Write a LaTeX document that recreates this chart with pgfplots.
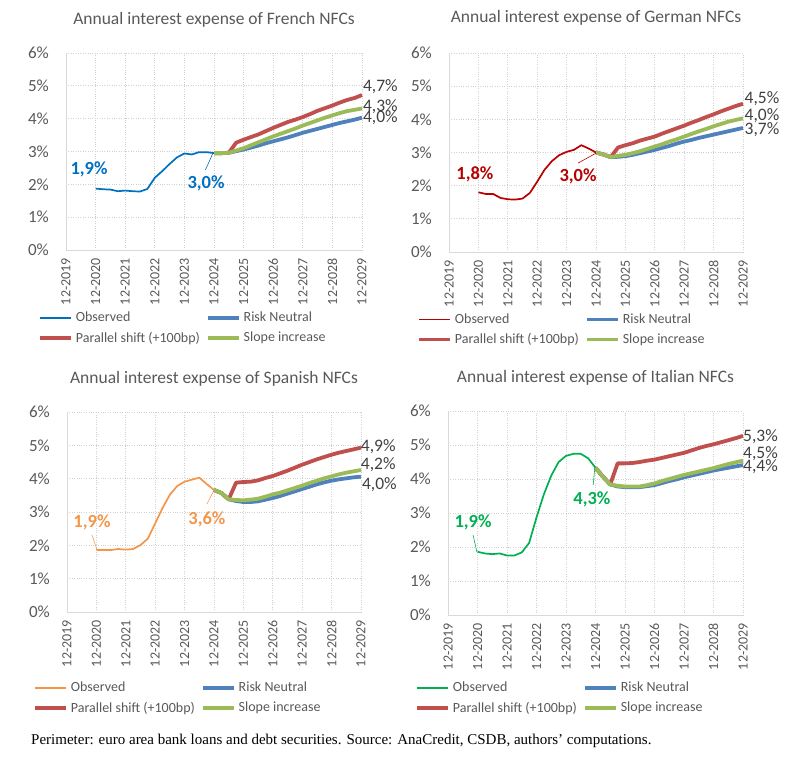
\documentclass[border=0pt]{standalone}
\usepackage{fontspec}
\setmainfont{Carlito}
\newfontfamily\notefont{Liberation Serif}
\usepackage{pgfplots}
\pgfplotsset{compat=1.18}
\definecolor{tickc}{HTML}{595959}
\definecolor{endc}{HTML}{404040}
\definecolor{gridc}{HTML}{D0D0D0}
\definecolor{axisc}{HTML}{D9D9D9}
\definecolor{frc}{HTML}{0070C0}
\definecolor{dec}{HTML}{B80000}
\definecolor{esc}{HTML}{F4964A}
\definecolor{itc}{HTML}{00B050}
\definecolor{rnc}{HTML}{4F81BD}
\definecolor{psc}{HTML}{C0504D}
\definecolor{sic}{HTML}{9BBB59}
\pgfplotsset{
  panel/.style={
    scale only axis, xmin=0, xmax=10, ymin=0, ymax=6,
    axis lines=left, axis line style={-, draw=axisc, line width=0.9pt},
    xtick={0,1,2,3,4,5,6,7,8,9,10},
    xticklabels={12-2019,12-2020,12-2021,12-2022,12-2023,12-2024,12-2025,12-2026,12-2027,12-2028,12-2029},
    ytick={0,1,2,3,4,5,6},
    yticklabels={0\%,1\%,2\%,3\%,4\%,5\%,6\%},
    /pgf/number format/assume math mode=true,
    major tick length=0pt,
    grid=major, grid style={dotted, draw=gridc, line width=0.8pt},
    xticklabel style={rotate=90, anchor=east, inner sep=0pt, font=\fontsize{14}{16}\selectfont, text=tickc},
    yticklabel style={anchor=east, inner sep=0pt, font=\fontsize{17}{20}\selectfont, text=tickc},
    xticklabel shift=8pt, yticklabel shift=17pt,
    title style={font=\fontsize{17.5}{20}\selectfont, text=tickc, anchor=center, at={(axis description cs:0.5,1)}},
    clip=false,
    legend columns=2,
    legend image code/.code={\draw[##1] (0pt,0pt) -- (31pt,0pt);},
    legend style={draw=none, fill=none, inner sep=0pt, font=\fontsize{14}{16}\selectfont, text=tickc, anchor=north west, row sep=4.5pt,
      /tikz/every odd column/.append style={column sep=1pt},
      /tikz/every even column/.append style={column sep=4pt}},
    legend cell align=left,
  },
  obs/.style={line width=1.7pt, line join=round},
  rn/.style={line width=3.8pt, color=rnc, line join=round},
  ps/.style={line width=3.8pt, color=psc, line join=round},
  si/.style={line width=3.8pt, color=sic, line join=round},
  lead/.style={line width=0.6pt, forget plot},
}
\tikzset{
  endlab/.style={anchor=west, inner sep=0pt, font=\fontsize{17.5}{20}\selectfont, text=endc},
  inlab/.style={inner sep=0pt, font=\fontsize{18.5}{21}\selectfont\bfseries},
}
\begin{document}
\begin{tikzpicture}
\path[use as bounding box] (0pt,0pt) rectangle (803pt,757pt);

% ---------------- French ----------------
\begin{axis}[panel, at={(66pt,507pt)}, anchor=south west, width=296pt, height=197pt,
  title={Annual interest expense of French NFCs}, title style={yshift=27pt},
  legend style={at={(axis description cs:-0.095,-0.305)}}]
\addplot[obs, color=frc] coordinates {(1,1.87)(1.25,1.85)(1.5,1.84)(1.75,1.79)(2,1.81)(2.25,1.79)(2.5,1.78)(2.75,1.86)(3,2.20)(3.25,2.40)(3.5,2.62)(3.75,2.82)(4,2.94)(4.25,2.91)(4.5,2.98)(4.75,2.98)(5,2.95)};
\addplot[rn] coordinates {(5,2.95)(5.25,2.95)(5.5,2.96)(5.75,3.01)(6,3.06)(6.25,3.12)(6.5,3.18)(6.75,3.25)(7,3.31)(7.25,3.37)(7.5,3.43)(7.75,3.50)(8,3.57)(8.25,3.63)(8.5,3.69)(8.75,3.75)(9,3.81)(9.25,3.87)(9.5,3.92)(9.75,3.97)(10,4.03)};
\addplot[ps] coordinates {(5,2.95)(5.25,2.95)(5.5,2.96)(5.75,3.27)(6,3.36)(6.25,3.44)(6.5,3.52)(6.75,3.62)(7,3.72)(7.25,3.81)(7.5,3.90)(7.75,3.97)(8,4.05)(8.25,4.14)(8.5,4.24)(8.75,4.32)(9,4.40)(9.25,4.49)(9.5,4.57)(9.75,4.63)(10,4.72)};
\addplot[si] coordinates {(5,2.95)(5.25,2.95)(5.5,2.96)(5.75,3.03)(6,3.10)(6.25,3.19)(6.5,3.28)(6.75,3.37)(7,3.46)(7.25,3.54)(7.5,3.62)(7.75,3.70)(8,3.79)(8.25,3.87)(8.5,3.95)(8.75,4.03)(9,4.10)(9.25,4.17)(9.5,4.23)(9.75,4.27)(10,4.31)};
\addplot[lead, color=frc] coordinates {(4.71,2.44)(4.95,2.92)};
\legend{Observed,Risk Neutral,Parallel shift (+100bp),Slope increase}
\node[inlab, text=frc] at (axis cs:0.78,2.47) {1,9\%};
\node[inlab, text=frc] at (axis cs:4.73,2.04) {3,0\%};
\node[endlab] at (axis cs:10.03,4.96) {4,7\%};
\node[endlab] at (axis cs:10.03,4.36) {4,3\%};
\node[endlab] at (axis cs:10.03,4.02) {4,0\%};
\end{axis}

% ---------------- German ----------------
\begin{axis}[panel, at={(449pt,505pt)}, anchor=south west, width=294pt, height=199pt,
  title={Annual interest expense of German NFCs}, title style={yshift=29pt},
  legend style={at={(axis description cs:-0.109,-0.30)}}]
\addplot[obs, color=dec] coordinates {(1,1.80)(1.25,1.75)(1.5,1.75)(1.75,1.63)(2,1.59)(2.25,1.58)(2.5,1.61)(2.75,1.78)(3,2.12)(3.25,2.48)(3.5,2.74)(3.75,2.92)(4,3.02)(4.25,3.08)(4.5,3.22)(4.75,3.12)(5,3.00)};
\addplot[rn] coordinates {(5,3.00)(5.25,2.94)(5.5,2.86)(5.75,2.87)(6,2.89)(6.25,2.93)(6.5,2.98)(6.75,3.03)(7,3.08)(7.25,3.14)(7.5,3.20)(7.75,3.27)(8,3.33)(8.25,3.38)(8.5,3.44)(8.75,3.49)(9,3.54)(9.25,3.59)(9.5,3.64)(9.75,3.69)(10,3.74)};
\addplot[ps] coordinates {(5,3.00)(5.25,2.94)(5.5,2.86)(5.75,3.15)(6,3.22)(6.25,3.28)(6.5,3.36)(6.75,3.42)(7,3.48)(7.25,3.57)(7.5,3.65)(7.75,3.73)(8,3.81)(8.25,3.90)(8.5,3.98)(8.75,4.07)(9,4.15)(9.25,4.24)(9.5,4.32)(9.75,4.40)(10,4.47)};
\addplot[si] coordinates {(5,3.00)(5.25,2.94)(5.5,2.86)(5.75,2.90)(6,2.93)(6.25,2.98)(6.5,3.04)(6.75,3.11)(7,3.18)(7.25,3.25)(7.5,3.33)(7.75,3.40)(8,3.48)(8.25,3.56)(8.5,3.64)(8.75,3.71)(9,3.79)(9.25,3.86)(9.5,3.93)(9.75,3.98)(10,4.03)};
\addplot[lead, color=dec] coordinates {(4.39,2.68)(5.0,2.98)};
\legend{Observed,Risk Neutral,Parallel shift (+100bp),Slope increase}
\node[inlab, text=dec] at (axis cs:0.88,2.35) {1,8\%};
\node[inlab, text=dec] at (axis cs:4.39,2.29) {3,0\%};
\node[endlab] at (axis cs:10.05,4.61) {4,5\%};
\node[endlab] at (axis cs:10.05,4.10) {4,0\%};
\node[endlab] at (axis cs:10.05,3.70) {3,7\%};
\end{axis}

% ---------------- Spanish ----------------
\begin{axis}[panel, at={(67pt,145pt)}, anchor=south west, width=294pt, height=200pt,
  title={Annual interest expense of Spanish NFCs}, title style={yshift=27pt},
  legend style={at={(axis description cs:-0.116,-0.34)}}]
\addplot[obs, color=esc] coordinates {(1,1.86)(1.25,1.86)(1.5,1.86)(1.75,1.89)(2,1.87)(2.25,1.89)(2.5,2.01)(2.75,2.20)(3,2.66)(3.25,3.12)(3.5,3.52)(3.75,3.78)(4,3.91)(4.25,3.97)(4.5,4.03)(4.75,3.84)(5,3.66)};
\addplot[rn] coordinates {(5,3.66)(5.25,3.57)(5.5,3.38)(5.75,3.33)(6,3.30)(6.25,3.30)(6.5,3.32)(6.75,3.37)(7,3.42)(7.25,3.48)(7.5,3.55)(7.75,3.62)(8,3.69)(8.25,3.76)(8.5,3.83)(8.75,3.89)(9,3.94)(9.25,3.98)(9.5,4.01)(9.75,4.04)(10,4.06)};
\addplot[ps] coordinates {(5,3.66)(5.25,3.57)(5.5,3.38)(5.75,3.88)(6,3.90)(6.25,3.91)(6.5,3.95)(6.75,4.02)(7,4.08)(7.25,4.16)(7.5,4.24)(7.75,4.33)(8,4.42)(8.25,4.50)(8.5,4.58)(8.75,4.65)(9,4.72)(9.25,4.78)(9.5,4.83)(9.75,4.88)(10,4.93)};
\addplot[si] coordinates {(5,3.66)(5.25,3.57)(5.5,3.38)(5.75,3.36)(6,3.35)(6.25,3.37)(6.5,3.40)(6.75,3.46)(7,3.53)(7.25,3.58)(7.5,3.65)(7.75,3.72)(8,3.79)(8.25,3.87)(8.5,3.94)(8.75,4.01)(9,4.07)(9.25,4.13)(9.5,4.18)(9.75,4.22)(10,4.26)};
\addplot[lead, color=esc] coordinates {(0.85,2.31)(1.02,1.86)};
\addplot[lead, color=esc] coordinates {(4.76,3.24)(4.97,3.60)};
\legend{Observed,Risk Neutral,Parallel shift (+100bp),Slope increase}
\node[inlab, text=esc] at (axis cs:0.85,2.70) {1,9\%};
\node[inlab, text=esc] at (axis cs:4.76,2.79) {3,6\%};
\node[endlab] at (axis cs:9.99,4.95) {4,9\%};
\node[endlab] at (axis cs:9.99,4.41) {4,2\%};
\node[endlab] at (axis cs:10.03,3.81) {4,0\%};
\end{axis}

% ---------------- Italian ----------------
\begin{axis}[panel, at={(448pt,142pt)}, anchor=south west, width=295pt, height=204pt,
  title={Annual interest expense of Italian NFCs}, title style={yshift=27pt},
  legend style={at={(axis description cs:-0.112,-0.319)}}]
\addplot[obs, color=itc] coordinates {(1,1.86)(1.25,1.81)(1.5,1.79)(1.75,1.81)(2,1.75)(2.25,1.75)(2.5,1.84)(2.75,2.12)(3,2.87)(3.25,3.55)(3.5,4.10)(3.75,4.50)(4,4.68)(4.25,4.74)(4.5,4.74)(4.75,4.61)(5,4.33)};
\addplot[rn] coordinates {(5,4.33)(5.25,4.07)(5.5,3.84)(5.75,3.78)(6,3.76)(6.25,3.76)(6.5,3.76)(6.75,3.79)(7,3.82)(7.25,3.88)(7.5,3.94)(7.75,3.99)(8,4.05)(8.25,4.10)(8.5,4.15)(8.75,4.20)(9,4.25)(9.25,4.29)(9.5,4.33)(9.75,4.37)(10,4.41)};
\addplot[ps] coordinates {(5,4.33)(5.25,4.07)(5.5,3.84)(5.75,4.46)(6,4.46)(6.25,4.47)(6.5,4.50)(6.75,4.54)(7,4.57)(7.25,4.62)(7.5,4.67)(7.75,4.72)(8,4.77)(8.25,4.84)(8.5,4.91)(8.75,4.97)(9,5.02)(9.25,5.08)(9.5,5.14)(9.75,5.20)(10,5.27)};
\addplot[si] coordinates {(5,4.33)(5.25,4.07)(5.5,3.84)(5.75,3.80)(6,3.78)(6.25,3.78)(6.5,3.78)(6.75,3.82)(7,3.87)(7.25,3.94)(7.5,4.00)(7.75,4.06)(8,4.12)(8.25,4.17)(8.5,4.22)(8.75,4.27)(9,4.32)(9.25,4.38)(9.5,4.44)(9.75,4.49)(10,4.54)};
\addplot[lead, color=itc] coordinates {(0.85,2.35)(0.98,1.85)};
\addplot[lead, color=itc] coordinates {(4.92,3.82)(4.98,4.35)};
\legend{Observed,Risk Neutral,Parallel shift (+100bp),Slope increase}
\node[inlab, text=itc] at (axis cs:0.85,2.71) {1,9\%};
\node[inlab, text=itc] at (axis cs:4.88,3.41) {4,3\%};
\node[endlab] at (axis cs:10.0,5.26) {5,3\%};
\node[endlab] at (axis cs:10.0,4.74) {4,5\%};
\node[endlab] at (axis cs:10.0,4.35) {4,4\%};
\end{axis}

\node[anchor=west, inner sep=0pt, font=\notefont\fontsize{15}{17}\selectfont, text=black] at (31pt,16pt)
  {Perimeter: euro area bank loans and debt securities. Source: AnaCredit, CSDB, authors’ computations.};
\end{tikzpicture}
\end{document}
